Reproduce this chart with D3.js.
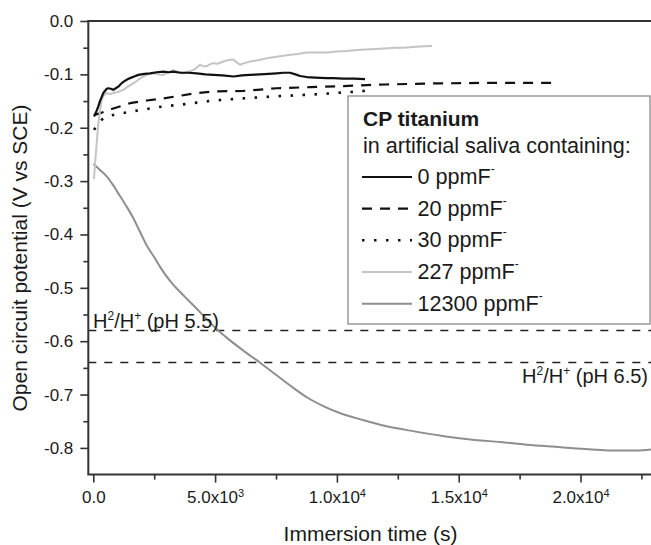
<!DOCTYPE html>
<html>
<head>
<meta charset="utf-8">
<script src="https://cdn.jsdelivr.net/npm/d3@7"></script>
<style>
  html, body { margin: 0; padding: 0; background: #fff; }
  svg { display: block; }
</style>
</head>
<body>
<svg id="chart" width="651" height="545"></svg>
<script>
// Open circuit potential of CP titanium vs immersion time, per fluoride level
const timeMajorTicks = [0, 5000, 10000, 15000, 20000];
const timeMinorTicks = [2500, 7500, 12500, 17500, 22500];
const timeTickLabels = [["0.0", ""], ["5.0x10", "3"], ["1.0x10", "4"], ["1.5x10", "4"], ["2.0x10", "4"]];

const ocpMajorTicks = [0, -0.1, -0.2, -0.3, -0.4, -0.5, -0.6, -0.7, -0.8];
const ocpMinorTicks = [-0.05, -0.15, -0.25, -0.35, -0.45, -0.55, -0.65, -0.75];
const ocpTickLabels = ["0.0", "-0.1", "-0.2", "-0.3", "-0.4", "-0.5", "-0.6", "-0.7", "-0.8"];

// [time (s), potential (V vs SCE)]
const ocp0 = [[29,-0.179],[140,-0.168],[205,-0.160],[275,-0.150],[411,-0.135],[550,-0.127],[616,-0.126],[720,-0.127],[821,-0.129],[920,-0.126],[1026,-0.123],[1130,-0.118],[1232,-0.114],[1370,-0.110],[1507,-0.107],[1680,-0.104],[1847,-0.101],[2100,-0.099],[2328,-0.098],[2600,-0.096],[2874,-0.095],[3100,-0.096],[3284,-0.095],[3559,-0.097],[3900,-0.097],[4245,-0.098],[4600,-0.100],[4926,-0.101],[5300,-0.102],[5760,-0.104],[6100,-0.102],[6433,-0.101],[6843,-0.100],[7200,-0.099],[7529,-0.098],[7800,-0.097],[8075,-0.097],[8300,-0.100],[8485,-0.103],[8760,-0.105],[9100,-0.106],[9581,-0.107],[9852,-0.107],[10263,-0.108],[10700,-0.108],[11154,-0.109]];

const ocp20 = [[29,-0.176],[275,-0.173],[821,-0.164],[1507,-0.154],[2192,-0.149],[2874,-0.145],[3559,-0.140],[4245,-0.135],[4926,-0.132],[6158,-0.131],[7529,-0.126],[8896,-0.124],[10263,-0.122],[11223,-0.120],[12000,-0.119],[13958,-0.117],[16000,-0.116],[18953,-0.116]];

const ocp30 = [[29,-0.204],[205,-0.192],[411,-0.182],[821,-0.176],[1507,-0.170],[2192,-0.165],[2874,-0.160],[3559,-0.157],[4245,-0.153],[4926,-0.149],[6158,-0.145],[7529,-0.141],[8896,-0.138],[10263,-0.134],[10949,-0.132],[11429,-0.129]];

const ocp227 = [[29,-0.296],[80,-0.262],[140,-0.229],[205,-0.192],[246,-0.179],[300,-0.160],[345,-0.148],[420,-0.140],[550,-0.135],[680,-0.137],[821,-0.135],[1000,-0.133],[1232,-0.129],[1450,-0.122],[1642,-0.117],[1850,-0.110],[2053,-0.104],[2250,-0.100],[2463,-0.098],[2650,-0.100],[2874,-0.101],[3050,-0.097],[3284,-0.092],[3480,-0.095],[3695,-0.098],[3900,-0.095],[4105,-0.092],[4250,-0.087],[4380,-0.082],[4520,-0.085],[4655,-0.085],[4800,-0.081],[4926,-0.079],[5100,-0.080],[5337,-0.076],[5550,-0.073],[5747,-0.072],[5900,-0.078],[6021,-0.082],[6200,-0.079],[6433,-0.076],[6800,-0.073],[7118,-0.070],[7529,-0.067],[7939,-0.064],[8400,-0.062],[8760,-0.059],[9200,-0.059],[9581,-0.059],[10000,-0.057],[10402,-0.056],[10949,-0.054],[11400,-0.053],[11769,-0.052],[12100,-0.051],[12385,-0.050],[12700,-0.050],[13001,-0.049],[13400,-0.048],[13904,-0.047]];

const ocp12300 = [[0,-0.268],[275,-0.279],[550,-0.291],[821,-0.308],[1096,-0.328],[1371,-0.348],[1650,-0.370],[1917,-0.395],[2200,-0.421],[2463,-0.440],[2800,-0.465],[3200,-0.490],[3740,-0.516],[4200,-0.537],[4700,-0.561],[5131,-0.580],[5600,-0.598],[6200,-0.619],[6835,-0.640],[7500,-0.663],[8227,-0.688],[8800,-0.706],[9462,-0.722],[10200,-0.736],[11010,-0.747],[12000,-0.759],[13177,-0.769],[14400,-0.778],[15653,-0.785],[16708,-0.789],[17800,-0.794],[18966,-0.798],[20200,-0.802],[21634,-0.805],[22300,-0.805],[22906,-0.803]];

const seriesLabels = ["0 ppmF", "20 ppmF", "30 ppmF", "227 ppmF", "12300 ppmF"];
const legendTitle = "CP titanium";
const legendSubtitle = "in artificial saliva containing:";

// H2/H+ equilibrium potentials; odd entries are superscripts
const refLevels = [-0.58, -0.64];
const refLabels = [["H", "2", "/H", "+", " (pH 5.5)"], ["H", "2", "/H", "+", " (pH 6.5)"]];

const xTitle = "Immersion time (s)";
const yTitle = "Open circuit potential (V vs SCE)";

// ---- drawing ----
const FONT = "'Liberation Sans', Arial, Helvetica, sans-serif";
const INK = "#1a1a1a";
const AXIS = "#333";

const svg = d3.select("#chart").attr("font-family", FONT);
svg.append("rect").attr("width", 651).attr("height", 545).attr("fill", "#fff");

const x = d3.scaleLinear().domain([0, 20000]).range([93.3, 580.5]);
const y = d3.scaleLinear().domain([-0.85, 0]).range([474.6, 21]);

const frameLeft = 88.3, frameRight = 651, frameTop = y(0), frameBottom = y(-0.85);

const styles = [
  { data: ocp0,     stroke: "#111",    width: 2.2, dash: null },
  { data: ocp20,    stroke: "#111",    width: 2.2, dash: "10,8" },
  { data: ocp30,    stroke: "#111",    width: 2.6, dash: "2.5,9.5" },
  { data: ocp227,   stroke: "#c4c4c4", width: 2,   dash: null },
  { data: ocp12300, stroke: "#8e8e8e", width: 2,   dash: null }
];

// reference lines
const refG = svg.append("g");
refLevels.forEach(v => {
  refG.append("line")
    .attr("x1", frameLeft).attr("x2", frameRight)
    .attr("y1", y(v)).attr("y2", y(v))
    .attr("stroke", "#222").attr("stroke-width", 1.5)
    .attr("stroke-dasharray", "8,8");
});

// text with alternating normal / superscript runs
function richText(g, parts, attrs, supSize, rise) {
  const t = g.append("text");
  Object.entries(attrs).forEach(([k, v]) => t.attr(k, v));
  let raised = false;
  parts.forEach((p, i) => {
    if (!p) return;
    const sup = i % 2 === 1;
    const ts = t.append("tspan").text(p);
    if (sup && !raised) { ts.attr("dy", -rise); raised = true; }
    else if (!sup && raised) { ts.attr("dy", rise); raised = false; }
    if (sup) ts.attr("font-size", supSize);
  });
  return t;
}

// series curves
const line = d3.line().x(d => x(d[0])).y(d => y(d[1]));
const smooth = d3.line().x(d => x(d[0])).y(d => y(d[1])).curve(d3.curveMonotoneX);
[4, 2, 1, 3, 0].forEach(i => {
  const s = styles[i];
  svg.append("path")
    .datum(s.data)
    .attr("d", i === 4 ? smooth : line)
    .attr("fill", "none")
    .attr("stroke", s.stroke)
    .attr("stroke-width", s.width)
    .attr("stroke-linejoin", "round")
    .attr("stroke-dasharray", s.dash);
});

// labels on reference lines
richText(svg, refLabels[0], { x: 93, y: 328.3, "font-size": 20, fill: INK }, 12, 8);
richText(svg, refLabels[1], { x: 648, y: 382.7, "font-size": 20, fill: INK, "text-anchor": "end" }, 12, 8);

// left axis
const gy = svg.append("g").attr("transform", `translate(${frameLeft},0)`)
  .call(d3.axisLeft(y).tickValues(ocpMajorTicks).tickSize(8).tickPadding(7)
    .tickFormat((d, i) => ocpTickLabels[i]));
gy.append("g").call(d3.axisLeft(y).tickValues(ocpMinorTicks).tickSize(5).tickFormat(""));
gy.selectAll(".domain").remove();
gy.attr("font-size", 17).attr("font-family", FONT);
gy.selectAll("line").attr("stroke", AXIS).attr("stroke-width", 1.6);
gy.selectAll("text").attr("fill", INK);

// bottom axis
const gx = svg.append("g").attr("transform", `translate(0,${frameBottom})`)
  .call(d3.axisBottom(x).tickValues(timeMajorTicks).tickSize(8).tickPadding(8.5)
    .tickFormat(() => ""));
gx.append("g").call(d3.axisBottom(x).tickValues(timeMinorTicks).tickSize(5).tickFormat(""));
gx.selectAll(".domain").remove();
gx.attr("font-size", 17).attr("font-family", FONT);
gx.selectAll("line").attr("stroke", AXIS).attr("stroke-width", 1.6);
gx.selectAll(".tick text").each(function (d) {
  const i = timeMajorTicks.indexOf(d);
  if (i < 0) return;
  const t = d3.select(this).attr("fill", INK);
  const [base, sup] = timeTickLabels[i];
  t.append("tspan").text(base);
  if (sup) t.append("tspan").attr("font-size", 11).attr("dy", -6).text(sup);
});

// frame
svg.append("path")
  .attr("d", `M${frameRight},${frameTop}H${frameLeft}V${frameBottom}H${frameRight}`)
  .attr("fill", "none").attr("stroke", AXIS).attr("stroke-width", 2);

// axis titles
svg.append("text")
  .attr("x", 370.5).attr("y", 541)
  .attr("text-anchor", "middle").attr("font-size", 21).attr("fill", INK)
  .text(xTitle);
svg.append("text")
  .attr("transform", "translate(27,258) rotate(-90)")
  .attr("text-anchor", "middle").attr("font-size", 21).attr("fill", INK)
  .text(yTitle);

// legend
const lg = svg.append("g");
lg.append("rect")
  .attr("x", 348).attr("y", 96).attr("width", 302).attr("height", 228)
  .attr("fill", "#fff").attr("stroke", "#8a8a8a").attr("stroke-width", 1.3);
lg.append("text").attr("x", 363).attr("y", 125.7)
  .attr("font-size", 21).attr("font-weight", "bold").attr("fill", INK).text(legendTitle);
lg.append("text").attr("x", 363).attr("y", 152.5)
  .attr("font-size", 21.6).attr("fill", INK).text(legendSubtitle);
const entryBaselines = [184, 215.7, 247.3, 279, 310.7];
seriesLabels.forEach((name, i) => {
  const s = styles[i];
  const by = entryBaselines[i];
  lg.append("line")
    .attr("x1", 362).attr("x2", 412)
    .attr("y1", by - 7).attr("y2", by - 7)
    .attr("stroke", s.stroke).attr("stroke-width", s.width)
    .attr("stroke-dasharray", s.dash);
  const t = lg.append("text").attr("x", 417.5).attr("y", by)
    .attr("font-size", 21.6).attr("fill", INK);
  t.append("tspan").text(name);
  t.append("tspan").attr("font-size", 12).attr("dy", -11).text("-");
});
</script>
</body>
</html>
